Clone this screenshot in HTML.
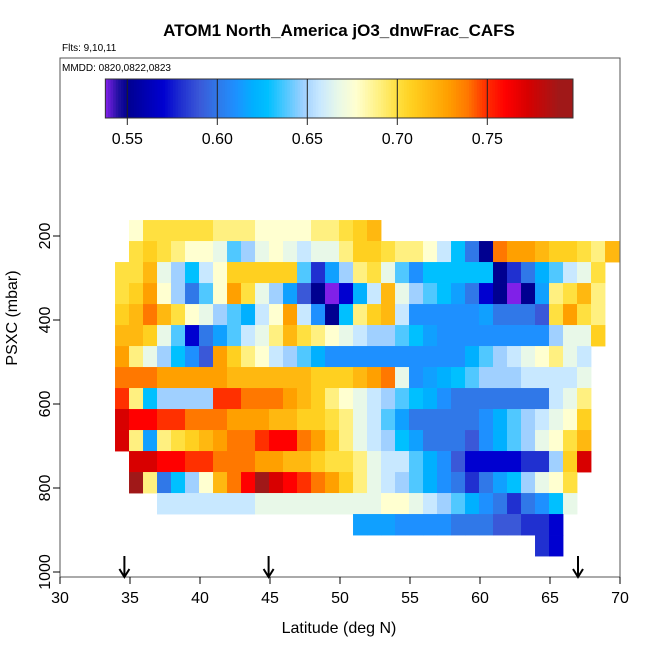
<!DOCTYPE html>
<html><head><meta charset="utf-8"><style>
html,body{margin:0;padding:0;background:#fff;overflow:hidden;}
svg{display:block;font-family:"Liberation Sans",sans-serif;}
</style></head><body>
<svg id="chart" width="650" height="650" viewBox="0 0 650 650">
<text x="339" y="36" text-anchor="middle" font-size="17" font-weight="bold">ATOM1 North_America jO3_dnwFrac_CAFS</text>
<text x="62" y="51" font-size="10">Flts: 9,10,11</text>
<rect x="60" y="58" width="560" height="519" fill="none" stroke="#555" stroke-width="1"/>
<text x="62" y="71" font-size="10">MMDD: 0820,0822,0823</text>
<g id="cells"></g>
<g id="cbar"></g>
<g id="axes"></g>
<text x="339" y="633" text-anchor="middle" font-size="16">Latitude (deg N)</text>
<text x="0" y="0" transform="translate(17,318) rotate(-90)" text-anchor="middle" font-size="16">PSXC (mbar)</text>
</svg>
<script>
const rowStart = [1,1,0,0,0,0,0,0,0,0,0,1,1,3,17,30];
const row0 = [.677,.70,.70,.70,.70,.70,.69,.69,.69,.677,.677,.677,.677,.69,.69,.70,.708,.718];
const row1 = [.70,.708,.70,.69,.677,.677,.667,.638,.648,.667,.677,.667,.657,.667,.667,.69,.708,.708,.70,.69,.69,.677,.657,.628,.60,.55,.739,.728,.728,.718,.708,.708,.70,.69,.718];
const row2 = [.70,.70,.718,.667,.648,.628,.657,.677,.708,.708,.708,.708,.708,.638,.58,.615,.648,.69,.70,.667,.638,.61,.628,.628,.628,.628,.628,.55,.58,.60,.62,.638,.657,.667,.70];
const row3 = [.70,.708,.728,.677,.648,.60,.638,.677,.728,.70,.667,.648,.615,.59,.55,.538,.57,.62,.657,.718,.667,.648,.638,.628,.615,.60,.57,.55,.538,.55,.615,.69,.70,.718,.69];
const row4 = [.708,.718,.739,.718,.70,.677,.667,.648,.638,.62,.657,.677,.728,.657,.61,.55,.628,.69,.708,.718,.657,.61,.61,.61,.61,.61,.615,.60,.60,.60,.59,.70,.728,.70,.69];
const row5 = [.718,.718,.708,.667,.638,.57,.60,.615,.638,.657,.667,.69,.718,.70,.69,.677,.667,.657,.648,.648,.638,.628,.615,.61,.61,.61,.61,.61,.61,.61,.61,.648,.667,.667,.708];
const row6 = [.728,.69,.667,.648,.628,.61,.59,.728,.708,.69,.677,.657,.648,.638,.62,.61,.61,.61,.61,.61,.61,.61,.61,.61,.61,.62,.638,.648,.657,.667,.677,.69,.667,.657];
const row7 = [.739,.739,.739,.728,.728,.728,.728,.728,.718,.718,.718,.718,.718,.718,.708,.708,.708,.718,.728,.739,.667,.61,.615,.62,.628,.638,.648,.648,.648,.657,.657,.657,.657,.667];
const row8 = [.749,.69,.628,.648,.648,.648,.648,.749,.749,.739,.739,.739,.728,.718,.708,.69,.677,.667,.657,.648,.638,.628,.62,.61,.60,.60,.60,.60,.60,.60,.60,.657,.667,.69];
const row9 = [.772,.76,.76,.749,.749,.739,.739,.739,.728,.728,.728,.718,.718,.708,.708,.70,.69,.667,.657,.638,.615,.60,.60,.60,.60,.60,.61,.62,.638,.648,.657,.667,.677,.708];
const row10 = [.772,.69,.615,.69,.70,.708,.718,.728,.739,.739,.749,.76,.76,.739,.728,.708,.69,.667,.657,.648,.628,.615,.60,.60,.60,.59,.61,.62,.638,.648,.667,.677,.70,.718];
const row11 = [.772,.772,.76,.76,.749,.749,.739,.739,.739,.728,.728,.718,.718,.708,.70,.70,.69,.667,.657,.657,.638,.62,.61,.59,.57,.57,.57,.57,.58,.58,.648,.708,.772];
const row12 = [.79,.69,.60,.628,.648,.677,.718,.739,.76,.79,.772,.76,.749,.739,.728,.708,.69,.667,.657,.648,.638,.62,.61,.60,.58,.60,.615,.628,.648,.667,.677,.70];
const row13 = [.657,.657,.657,.657,.657,.657,.657,.667,.667,.667,.667,.667,.667,.667,.667,.667,.677,.677,.667,.657,.648,.638,.62,.61,.60,.58,.60,.61,.628,.667];
const row14 = [.615,.615,.615,.61,.61,.61,.61,.60,.60,.60,.59,.59,.58,.58,.57];
const row15 = [.58,.57];
const rows = [row0,row1,row2,row3,row4,row5,row6,row7,row8,row9,row10,row11,row12,row13,row14,row15];
const latEdge0 = 33.93, latStep = 1.0;
const pEdge0 = 162, pStep = 50;
const xTicks = [30,35,40,45,50,55,60,65,70];
const yTicks = [200,400,600,800,1000];
const cbTicks = [0.55,0.60,0.65,0.70,0.75];
const cbMin = 0.5378, cbMax = 0.7976;
const arrowLats = [34.6, 44.9, 67.0];

const xScale = lat => 60 + (lat-30)*14;
const yScale = p => 152 + p*0.42;
const cbScale = v => 127.3 + (v-0.55)*1800;

const stops = [[0.538,'#8020e8'],[0.545,'#2010a0'],[0.55,'#000090'],[0.57,'#0000d0'],[0.58,'#2030d0'],[0.59,'#3a58d8'],[0.60,'#3078e8'],[0.61,'#1e90ff'],[0.615,'#10a0ff'],[0.62,'#00b0ff'],[0.628,'#00c0ff'],[0.638,'#50c8ff'],[0.648,'#a0d0ff'],[0.657,'#c8e8ff'],[0.667,'#e8f8e8'],[0.677,'#ffffd0'],[0.69,'#fff080'],[0.70,'#ffe040'],[0.708,'#ffd020'],[0.718,'#ffb810'],[0.728,'#ffa000'],[0.739,'#ff7800'],[0.749,'#ff3000'],[0.76,'#ff0000'],[0.772,'#d80000'],[0.79,'#a01818'],[0.80,'#a01818']];
function hx(c){return [1,3,5].map(i=>parseInt(c.substr(i,2),16));}
function cmap(v){
  if(v<=stops[0][0]) return stops[0][1];
  for(let i=1;i<stops.length;i++){
    if(v<=stops[i][0]){
      const t=(v-stops[i-1][0])/(stops[i][0]-stops[i-1][0]);
      const a=hx(stops[i-1][1]), b=hx(stops[i][1]);
      return 'rgb('+a.map((x,k)=>Math.round(x+(b[k]-x)*t)).join(',')+')';
    }
  }
  return stops[stops.length-1][1];
}
const NS='http://www.w3.org/2000/svg';
function mk(tag,attrs,parent){const e=document.createElementNS(NS,tag);for(const k in attrs)e.setAttribute(k,attrs[k]);parent.appendChild(e);return e;}

const cells=document.getElementById('cells');
rows.forEach((vals,r)=>{
  vals.forEach((v,i)=>{
    const c=rowStart[r]+i;
    const x0=xScale(latEdge0+c*latStep), x1=xScale(latEdge0+(c+1)*latStep);
    const y0=yScale(pEdge0+r*pStep), y1=yScale(pEdge0+(r+1)*pStep);
    const el=mk('rect',{x:x0.toFixed(2),y:y0.toFixed(2),width:(x1-x0+0.4).toFixed(2),height:(y1-y0+0.4).toFixed(2),fill:cmap(v)},cells);
    
    
  });
});

const cb=document.getElementById('cbar');
const N=180;
for(let i=0;i<N;i++){
  const v0=cbMin+(cbMax-cbMin)*i/N, v1=cbMin+(cbMax-cbMin)*(i+1)/N;
  const el=mk('rect',{x:cbScale(v0).toFixed(2),y:79,width:(cbScale(v1)-cbScale(v0)+0.5).toFixed(2),height:39,fill:cmap((v0+v1)/2)},cb);
  
  
}
const cbf=mk('rect',{x:cbScale(cbMin),y:79,width:cbScale(cbMax)-cbScale(cbMin),height:39,fill:'none',stroke:'#333','stroke-width':1},cb);


cbTicks.forEach(v=>{
  const x=cbScale(v);
  const l=mk('line',{x1:x,x2:x,y1:79,y2:125,stroke:'#222','stroke-width':1},cb);
  
  
  const t=mk('text',{x:x,y:144,'text-anchor':'middle','font-size':16},cb);
  t.textContent=v.toFixed(2);
  
  
});

const ax=document.getElementById('axes');
xTicks.forEach(v=>{
  const x=xScale(v);
  const l=mk('line',{x1:x,x2:x,y1:577,y2:584,stroke:'#000'},ax);
  
  
  const t=mk('text',{x:x,y:603,'text-anchor':'middle','font-size':16},ax);
  t.textContent=v;
  
  
});
yTicks.forEach(v=>{
  const y=yScale(v);
  const l=mk('line',{x1:53,x2:60,y1:y,y2:y,stroke:'#000'},ax);
  
  
  const t=mk('text',{x:0,y:0,transform:'translate(50,'+y+') rotate(-90)','text-anchor':'middle','font-size':16},ax);
  t.textContent=v;
  
  
});
arrowLats.forEach(v=>{
  const x=xScale(v);
  const g=mk('g',{},ax);
  
  
  mk('line',{x1:x,x2:x,y1:556,y2:576,stroke:'#000','stroke-width':2},g);
  mk('path',{d:'M'+(x-5)+' 569 L'+x+' 577 L'+(x+5)+' 569',fill:'none',stroke:'#000','stroke-width':2},g);
});
</script>
</body></html>
